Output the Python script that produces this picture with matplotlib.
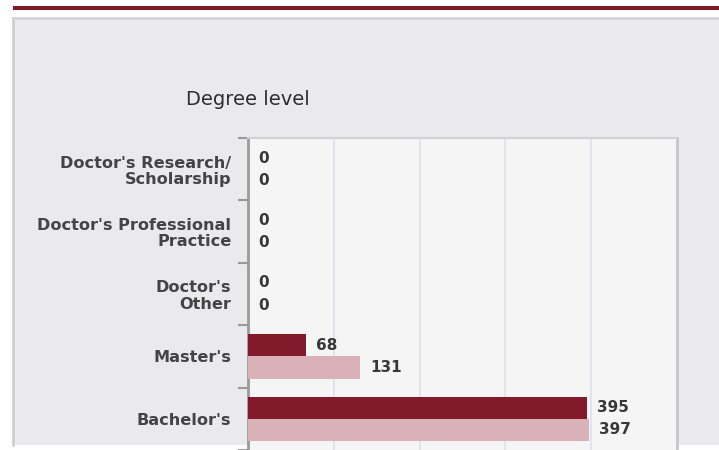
import matplotlib
matplotlib.use("Agg")
import matplotlib.pyplot as plt
from matplotlib.patches import Rectangle
from matplotlib.lines import Line2D
import numpy as np

categories = ["Doctor's Research/\nScholarship", "Doctor's Professional\nPractice",
              "Doctor's\nOther", "Master's", "Bachelor's"]
series_a = [0, 0, 0, 68, 395]
series_b = [0, 0, 0, 131, 397]
x_ticks = [0, 100, 200, 300, 400, 500]
title = "Degree level"

W, H = 719, 450
fig = plt.figure(figsize=(W / 100, H / 100), dpi=100)
fig.patch.set_facecolor("white")

def fx(px):
    return px / W

def fy(py):
    return 1 - py / H

# top maroon rule
fig.add_artist(Rectangle((fx(13), fy(10)), 1 - fx(13) + 0.01, 4 / H,
                         transform=fig.transFigure, facecolor="#7f1a2b",
                         edgecolor="none", zorder=-2))
# light grey panel (borders on left and top only)
fig.add_artist(Rectangle((fx(13), fy(445)), 1.0, (445 - 18) / H,
                         transform=fig.transFigure, facecolor="#eaeaee",
                         edgecolor="none", zorder=-1))
fig.add_artist(Line2D([fx(13), fx(13)], [fy(445), fy(18)], transform=fig.transFigure,
                      color="#cfcfd2", linewidth=2, zorder=-0.5))
fig.add_artist(Line2D([fx(13), 1.0], [fy(18), fy(18)], transform=fig.transFigure,
                      color="#d4d4d7", linewidth=2, zorder=-0.5))

ax = fig.add_axes([fx(248), 0.0, fx(677) - fx(248), fy(138)])
ax.set_facecolor("#f5f5f5")

y = np.arange(len(categories))
bh = 0.355
dark = "#831a2c"
light = "#d8b2b7"
ax.barh(y - bh / 2, series_a, height=bh, color=dark, zorder=3)
ax.barh(y + bh / 2, series_b, height=bh, color=light, zorder=3)

for yi, (a, b) in enumerate(zip(series_a, series_b)):
    ax.annotate(str(a), (a, yi - bh / 2), xytext=(7.2, 0), textcoords="offset points",
                va="center", ha="left", fontsize=11, fontweight="bold",
                color="#383838", zorder=4)
    ax.annotate(str(b), (b, yi + bh / 2), xytext=(7.2, 0), textcoords="offset points",
                va="center", ha="left", fontsize=11, fontweight="bold",
                color="#383838", zorder=4)

ax.set_xlim(x_ticks[0], x_ticks[-1])
ax.set_ylim(len(categories) - 0.5, -0.5)
ax.set_xticks(x_ticks)
ax.tick_params(axis="x", bottom=False, labelbottom=False)
ax.grid(axis="x", color="#e1e4ef", linewidth=1.5, zorder=1)
ax.set_axisbelow(True)

ax.set_yticks(y)
ax.set_yticklabels(categories, fontsize=11.6, fontweight="bold", color="#444444",
                   linespacing=1.1)
ax.set_yticks(np.arange(len(categories) + 1) - 0.5, minor=True)
ax.tick_params(axis="y", which="major", length=0, pad=12)
ax.tick_params(axis="y", which="minor", length=7.5, width=1.5, color="#9a9a9a",
               direction="out")

ax.spines["bottom"].set_visible(False)
ax.spines["left"].set_color("#9a9a9a")
ax.spines["left"].set_linewidth(2)
ax.spines["top"].set_color("#d2d2d6")
ax.spines["top"].set_linewidth(1.5)
ax.spines["right"].set_color("#c6c6cc")
ax.spines["right"].set_linewidth(2)

fig.text(fx(248), fy(105), title, ha="center", va="baseline", fontsize=14,
         color="#2e2e2e")

fig.savefig("out.png", dpi=100)
